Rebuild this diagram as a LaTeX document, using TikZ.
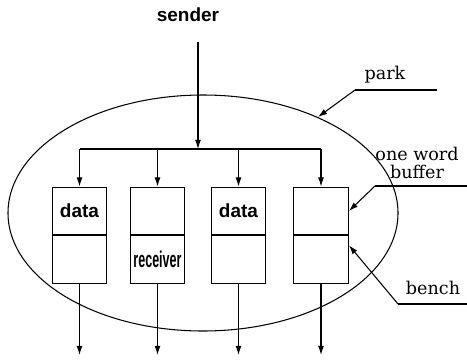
\documentclass[tikz,border=0pt]{standalone}
\usepackage{fontspec}
\setmainfont{DejaVu Serif}
\setsansfont{Liberation Sans}
\usepackage{graphicx}
\usepackage{tkz-euclide}
\usetikzlibrary{positioning,arrows.meta}

\tikzset{
	cell/.style={draw,line width=0.75pt,minimum width=39pt,minimum height=34pt,inner sep=0pt,font=\sffamily\bfseries\fontsize{13.5}{15}\selectfont},
	tag/.style={font=\fontsize{12.5}{13}\selectfont,align=center}
}

\begin{document}
\begin{tikzpicture}[scale=0.5,line width=0.75pt,>={Latex[length=6.5pt,width=4.2pt]}]
	\useasboundingbox (0,0) rectangle (23.35,18);

	% the park
	\draw (10.15,7.35) ellipse (9.75 and 5.9);

	\tkzDefPoint(9.9,15.9){s}
	\tkzDefPoint(9.9,10.55){j}
	\tkzDefPoint(3.975,10.55){w1}
	\tkzDefPoint(7.875,10.55){w2}
	\tkzDefPoint(11.925,10.55){w3}
	\tkzDefPoint(16.05,10.55){w4}

	\tkzDefPoint(3.975,0.25){o1}
	\tkzDefPoint(7.875,0.25){o2}
	\tkzDefPoint(11.925,0.25){o3}
	\tkzDefPoint(16.05,0.25){o4}

	\node[font=\sffamily\bfseries\fontsize{13.5}{15}\selectfont] (sender) at (9.4,17.25) {sender};

	% benches, buffer on top
	\node[cell] (u1) at (3.975,7.45) {data};
	\node[cell] (u2) at (7.875,7.45) {};
	\node[cell] (u3) at (11.925,7.45) {data};
	\node[cell] (u4) at (16.05,7.45) {};
	\node[cell,below=0pt of u1] (l1) {};
	\node[cell,below=0pt of u2] (l2) {\scalebox{0.66}[1.2]{receiver}};
	\node[cell,below=0pt of u3] (l3) {};
	\node[cell,below=0pt of u4] (l4) {};

	\path[->] (s) edge (j);
	\path[-] (w1) edge (w4);
	\path[->] (w1) edge (u1.north);
	\path[->] (w2) edge (u2.north);
	\path[->] (w3) edge (u3.north);
	\path[->] (w4) edge (u4.north);

	\path[->] (l1.south) edge (o1);
	\path[->] (l2.south) edge (o2);
	\path[->] (l3.south) edge (o3);
	\path[->] (l4.south) edge (o4);

	% labels with leaders
	\node[tag] (park) at (19.25,14.25) {park};
	\node[tag] (buffer) at (20.85,9.85) {one word\\buffer};
	\node[tag] (bench) at (21.65,3.6) {bench};

	\tkzDefPoint(21.85,13.5){p1}
	\tkzDefPoint(17.75,13.5){p2}
	\tkzDefPoint(15.9,12.15){p3}
	\tkzDefPoint(23.35,8.7){b1}
	\tkzDefPoint(18.75,8.7){b2}
	\tkzDefPoint(23.35,2.8){c1}
	\tkzDefPoint(19.9,2.8){c2}

	\path[-] (p1) edge (p2);
	\path[->] (p2) edge (p3);
	\path[-] (b1) edge (b2);
	\path[->] (b2) edge (u4.east);
	\path[-] (c1) edge (c2);
	\path[->] (c2) edge ([yshift=-14pt]l4.north east);
\end{tikzpicture}
\end{document}
